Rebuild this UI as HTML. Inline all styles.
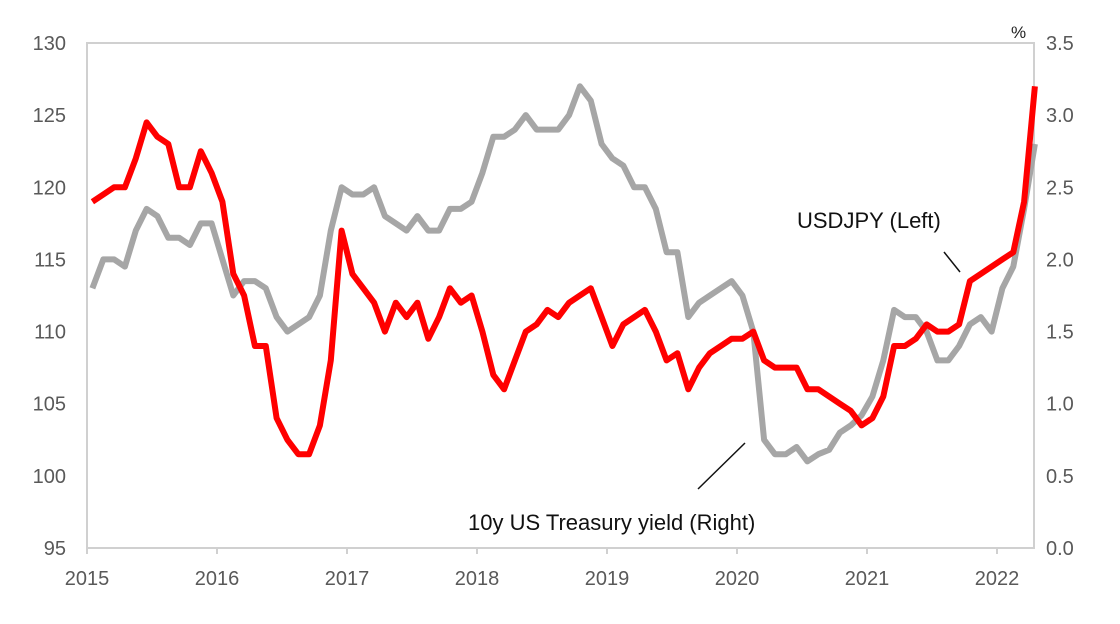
<!DOCTYPE html>
<html><head><meta charset="utf-8"><style>
body{margin:0;background:#fff;}
svg text{font-family:"Liberation Sans",sans-serif;}
</style></head><body>
<svg id="chart" width="1120" height="619" xmlns="http://www.w3.org/2000/svg">
<rect x="87" y="43" width="947" height="505" fill="none" stroke="#d0d0d0" stroke-width="2"/>
<g id="axes"></g>
<g id="series"></g>
<text x="1011" y="38" font-size="17" fill="#222">%</text>
<text x="797" y="228" font-size="22" fill="#111">USDJPY (Left)</text>
<line x1="944" y1="252" x2="960" y2="272" stroke="#111" stroke-width="1.5"/>
<text x="468" y="530" font-size="22" fill="#111">10y US Treasury yield (Right)</text>
<line x1="698" y1="489" x2="745" y2="443" stroke="#111" stroke-width="1.5"/>
</svg>
<script>
const years = [2015,2016,2017,2018,2019,2020,2021,2022];
const leftTicks = [95,100,105,110,115,120,125,130];
const rightTicks = ["0.0","0.5","1.0","1.5","2.0","2.5","3.0","3.5"];
const usdjpy = [119,119.5,120,120,122,124.5,123.5,123,120,120,122.5,121,
119,114,112.5,109,109,104,102.5,101.5,101.5,103.5,108,117,
114,113,112,110,112,111,112,109.5,111,113,112,112.5,
110,107,106,108,110,110.5,111.5,111,112,112.5,113,111,
109,110.5,111,111.5,110,108,108.5,106,107.5,108.5,109,109.5,
109.5,110,108,107.5,107.5,107.5,106,106,105.5,105,104.5,103.5,
104,105.5,109,109,109.5,110.5,110,110,110.5,113.5,114,114.5,
115,115.5,119,127];
const yield10 = [1.8,2.0,2.0,1.95,2.2,2.35,2.3,2.15,2.15,2.1,2.25,2.25,
2.0,1.75,1.85,1.85,1.8,1.6,1.5,1.55,1.6,1.75,2.2,2.5,
2.45,2.45,2.5,2.3,2.25,2.2,2.3,2.2,2.2,2.35,2.35,2.4,
2.6,2.85,2.85,2.9,3.0,2.9,2.9,2.9,3.0,3.2,3.1,2.8,
2.7,2.65,2.5,2.5,2.35,2.05,2.05,1.6,1.7,1.75,1.8,1.85,
1.75,1.5,0.75,0.65,0.65,0.7,0.6,0.65,0.68,0.8,0.85,0.92,
1.05,1.3,1.65,1.6,1.6,1.5,1.3,1.3,1.4,1.55,1.6,1.5,
1.8,1.95,2.35,2.8];
const X0=87, XS=130, Y0=548, Y1=43;
const x = t => X0 + (t-2015)*XS;
const yL = v => Y0 - (v-95)/35*(Y0-Y1);
const yR = v => Y0 - v/3.5*(Y0-Y1);
const NS="http://www.w3.org/2000/svg";
const axes=document.getElementById('axes'), ser=document.getElementById('series');
function mk(tag,attrs,parent){const e=document.createElementNS(NS,tag);for(const k in attrs)e.setAttribute(k,attrs[k]);parent.appendChild(e);return e;}
years.forEach(yr=>{
  const t=mk('line',{x1:x(yr),x2:x(yr),y1:Y0,y2:Y0+6,stroke:'#d0d0d0','stroke-width':2},axes);
  
  
  const l=mk('text',{x:x(yr),y:585,'font-size':20,fill:'#595959','text-anchor':'middle'},axes);
  l.textContent=yr;
  
  
});
leftTicks.forEach(v=>{
  const l=mk('text',{x:66,y:yL(v)+7,'font-size':20,fill:'#595959','text-anchor':'end'},axes);
  l.textContent=v;
  
  
});
rightTicks.forEach(v=>{
  const l=mk('text',{x:1046,y:yR(parseFloat(v))+7,'font-size':20,fill:'#595959'},axes);
  l.textContent=v;
  
  
});
function path(arr,fy){return arr.map((v,i)=>(i?'L':'M')+x(2015+i/12+1/24).toFixed(1)+' '+fy(v).toFixed(1)).join(' ');}
const g=mk('path',{d:path(yield10,yR),fill:'none',stroke:'#a6a6a6','stroke-width':6,'stroke-linejoin':'round'},ser);


const r=mk('path',{d:path(usdjpy,yL),fill:'none',stroke:'#ff0000','stroke-width':6,'stroke-linejoin':'round'},ser);


</script>
</body></html>
